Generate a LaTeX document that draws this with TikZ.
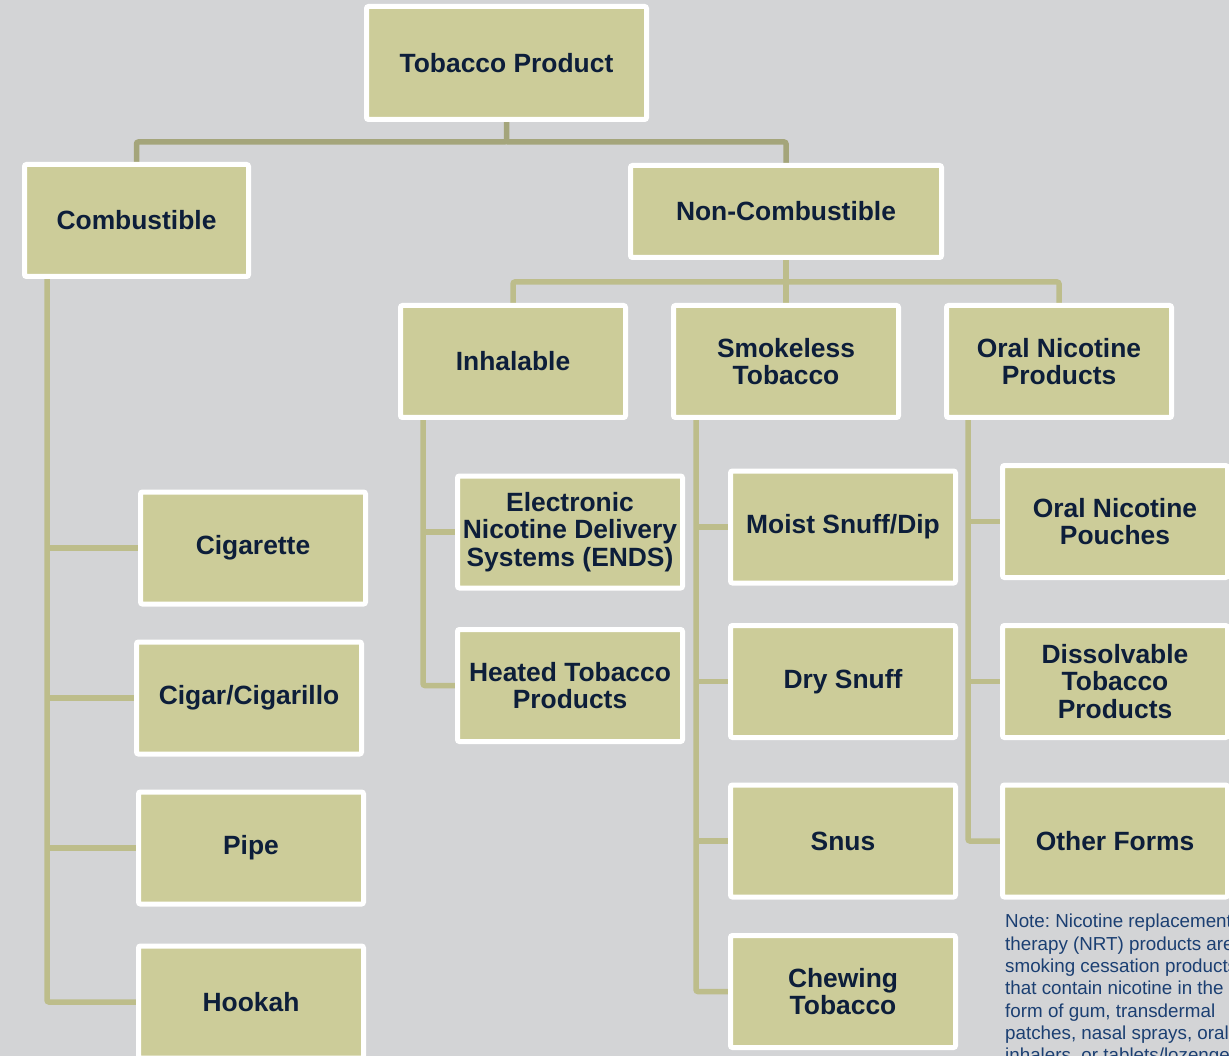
\documentclass[tikz,border=0pt]{standalone}
\usepackage{fontspec}
\setmainfont{Liberation Sans}
\definecolor{bgc}{HTML}{D3D4D6}
\definecolor{boxc}{HTML}{CCCC99}
\definecolor{txtc}{HTML}{0D1E3A}
\definecolor{topl}{HTML}{A4A57B}
\definecolor{subl}{HTML}{BDBD8B}
\definecolor{notec}{HTML}{1B3F72}
\pgfdeclarelayer{bg}
\pgfdeclarelayer{lines}
\pgfsetlayers{bg,lines,main}
\frenchspacing
\begin{document}
\begin{tikzpicture}[x=1pt,y=-1pt,
  catbox/.style={draw=white, line width=5pt, fill=boxc, rounded corners=2pt,
    inner sep=0pt, outer sep=0pt, minimum width=225pt, minimum height=112pt,
    align=center, text=txtc, font=\fontsize{26.4}{27.5}\selectfont\bfseries},
  topline/.style={draw=topl, line width=5.5pt, rounded corners=2pt},
  subline/.style={draw=subl, line width=5.5pt, rounded corners=2pt},
  notetext/.style={anchor=north west, inner sep=0pt, align=left, text=notec,
    font=\fontsize{18.8}{22.3}\selectfont},
]
\path[use as bounding box] (0,0) rectangle (1229,1056);
\begin{pgfonlayer}{bg}
  \fill[bgc] (0,0) rectangle (1229,1056);
\end{pgfonlayer}
\clip (0,0) rectangle (1229,1056);

% level 0/1
\node[catbox, minimum width=280pt, minimum height=113pt] (tp) at (506.5,63) {Tobacco Product};
\node[catbox, minimum width=224pt] (comb) at (136.5,220.5) {Combustible};
\node[catbox, minimum width=311pt, minimum height=92pt] (nc) at (786,211.5) {Non-Combustible};
% level 2
\node[catbox] (inh) at (513,361.5) {Inhalable};
\node[catbox] (smk) at (786,361.5) {Smokeless\\Tobacco};
\node[catbox] (onp) at (1059,361.5) {Oral Nicotine\\Products};
% combustible leaves
\node[catbox] (cig) at (253,548) {Cigarette};
\node[catbox] (cigar) at (249,698) {Cigar/Cigarillo};
\node[catbox] (pipe) at (251,848) {Pipe};
\node[catbox] (hook) at (251,1002) {Hookah};
% inhalable leaves
\node[catbox] (ends) at (570,532) {Electronic\\Nicotine Delivery\\Systems (ENDS)};
\node[catbox] (heat) at (570,685.5) {Heated Tobacco\\Products};
% smokeless leaves
\node[catbox] (moist) at (843,527) {Moist Snuff/Dip};
\node[catbox] (dry) at (843,681.5) {Dry Snuff};
\node[catbox] (snus) at (843,841) {Snus};
\node[catbox] (chew) at (843,991.5) {Chewing\\Tobacco};
% oral nicotine leaves
\node[catbox] (pouch) at (1115,521.5) {Oral Nicotine\\Pouches};
\node[catbox] (diss) at (1115,681.5) {Dissolvable\\Tobacco\\Products};
\node[catbox] (other) at (1115,841) {Other Forms};

\node[notetext] (note) at (1005,914) {Note: Nicotine replacement\\therapy (NRT) products are\\smoking cessation products\\that contain nicotine in the\\form of gum, transdermal\\patches, nasal sprays, oral\\inhalers, or tablets/lozenges};

\coordinate (bar1) at (0,142);
\coordinate (bar2) at (0,282);
\coordinate (cx) at (47,0);
\coordinate (ix) at (423,0);
\coordinate (sx) at (696,0);
\coordinate (ox) at (968,0);

\begin{pgfonlayer}{lines}
  % top level
  \draw[topline] (tp.south) -- (tp.south |- bar1) -| (comb.north);
  \draw[topline] (tp.south |- bar1) -| (nc.north);
  % non-combustible
  \draw[subline] (nc.south) -- (smk.north);
  \draw[subline] (nc.south |- bar2) -| (inh.north);
  \draw[subline] (nc.south |- bar2) -| (onp.north);
  % combustible
  \draw[subline] (comb.south -| cx) -- (hook.west -| cx) -- (hook.west);
  \draw[subline] (cig.west -| cx) -- (cig.west);
  \draw[subline] (cigar.west -| cx) -- (cigar.west);
  \draw[subline] (pipe.west -| cx) -- (pipe.west);
  % inhalable
  \draw[subline] (inh.south -| ix) -- (heat.west -| ix) -- (heat.west);
  \draw[subline] (ends.west -| ix) -- (ends.west);
  % smokeless
  \draw[subline] (smk.south -| sx) -- (chew.west -| sx) -- (chew.west);
  \draw[subline] (moist.west -| sx) -- (moist.west);
  \draw[subline] (dry.west -| sx) -- (dry.west);
  \draw[subline] (snus.west -| sx) -- (snus.west);
  % oral nicotine
  \draw[subline] (onp.south -| ox) -- (other.west -| ox) -- (other.west);
  \draw[subline] (pouch.west -| ox) -- (pouch.west);
  \draw[subline] (diss.west -| ox) -- (diss.west);
\end{pgfonlayer}
\end{tikzpicture}
\end{document}
